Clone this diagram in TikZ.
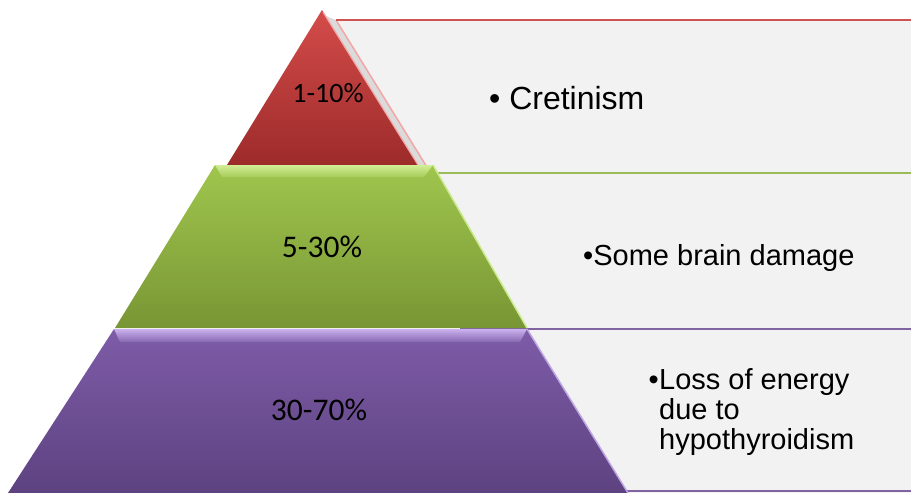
\documentclass[tikz,border=0pt]{standalone}
\usepackage{fontspec}
\setmainfont{Liberation Sans}
\newfontfamily\calfont{Carlito}
\definecolor{boxgray}{HTML}{F2F2F2}
\definecolor{redTop}{HTML}{D44C4A}
\definecolor{redBot}{HTML}{9C2B2A}
\definecolor{redLine}{HTML}{CD5452}
\definecolor{redEdge}{HTML}{F2A6A6}
\definecolor{greenTop}{HTML}{A0C64E}
\definecolor{greenBot}{HTML}{789634}
\definecolor{greenLine}{HTML}{9BBB59}
\definecolor{greenEdge}{HTML}{CBEA8E}
\definecolor{greenBevTop}{HTML}{D2EE96}
\definecolor{greenBevBot}{HTML}{A6CC5A}
\definecolor{purTop}{HTML}{7E5CA8}
\definecolor{purBot}{HTML}{5D4280}
\definecolor{purLine}{HTML}{8064A2}
\definecolor{purEdge}{HTML}{BDA6E2}
\definecolor{purBevTop}{HTML}{CBB2EE}
\definecolor{purBevBot}{HTML}{8667B0}
\tikzset{
  pct/.style={font=\calfont\fontsize{31.5}{32}\selectfont, text=black, inner sep=0pt, anchor=base},
  item/.style={font=\fontsize{29}{30}\selectfont, text=black, inner sep=0pt, anchor=base west},
}
\begin{document}
\begin{tikzpicture}[x=1pt,y=-1pt]
\useasboundingbox (0,0) rectangle (911,493);
% text boxes
\fill[boxgray] (336,20) -- (911,20) -- (911,172) -- (430,172) -- cycle;
\fill[black!14] (326,16) -- (336,20) -- (430,172) -- (420,172) -- cycle;
\draw[redEdge, line width=1.5pt] (336,20) -- (430,172);
\draw[redLine, line width=2pt] (336,20) -- (911,20);
\fill[boxgray] (432,173) rectangle (911,328);
\draw[greenLine, line width=2pt] (432,173) -- (911,173);
\fill[boxgray] (460,329) rectangle (911,493);
\draw[purLine, line width=2pt] (460,329) -- (911,329);
\draw[purLine, line width=2pt] (620,491) -- (911,491);
% red triangle
\shade[top color=redTop, bottom color=redBot] (322,10) -- (418,165) -- (227,165) -- cycle;
\draw[redEdge, line width=1.2pt] (323,12) -- (418,165);
% green trapezoid
\shade[top color=greenTop, bottom color=greenBot] (215,165) -- (433,165) -- (527,328) -- (115,328) -- cycle;
\shade[top color=greenBevTop, bottom color=greenBevBot] (215,165) -- (433,165) -- (424,177) -- (222,177) -- cycle;
\draw[greenEdge, line width=1.5pt] (433,165) -- (527,328);
% purple trapezoid
\shade[top color=purTop, bottom color=purBot] (114,329) -- (527,329) -- (628,493) -- (8,493) -- cycle;
\shade[top color=purBevTop, bottom color=purBevBot] (114,329) -- (527,329) -- (520,342) -- (120,342) -- cycle;
\draw[purEdge, line width=1.5pt] (527,329) -- (628,493);
% percentages
\node[pct, font=\calfont\fontsize{28}{30}\selectfont] (p1) at (328,102) {1-10\%};
\node[pct] (p2) at (322,257) {5-30\%};
\node[pct] (p3) at (319,420) {30-70\%};
% items
\node[item, font=\fontsize{32}{34}\selectfont] (t1) at (489,109) {• Cretinism};
\node[item] (t2) at (583,265) {•Some brain damage};
\node[item, anchor=base east] (b3) at (659,389) {•};
\node[item] (t3a) at (659,389) {Loss of energy};
\node[item] (t3b) at (659,419) {due to};
\node[item] (t3c) at (659,449) {hypothyroidism};
\end{tikzpicture}
\end{document}
